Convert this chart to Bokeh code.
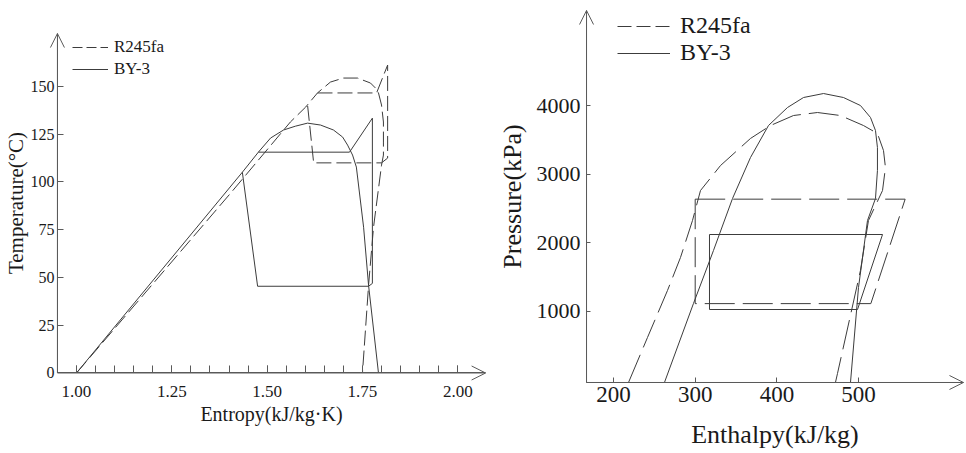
from bokeh.plotting import figure
from bokeh.models import Range1d, FixedTicker, Arrow, OpenHead, Legend, LegendItem
from bokeh.layouts import row
from bokeh.embed import file_html
from bokeh.resources import INLINE

# ---------------- data: T-s diagram ----------------
ts_r245_dome_s = [1.000, 1.404, 1.561, 1.601, 1.632, 1.666, 1.700, 1.737, 1.771, 1.784,
                  1.792, 1.800, 1.805, 1.805, 1.805, 1.800, 1.779, 1.766, 1.750]
ts_r245_dome_T = [0, 94.1, 131.4, 139.2, 146.6, 152.3, 154.4, 154.4, 151.8, 149.2,
                  146.6, 140.3, 131.4, 120.9, 114.1, 108.8, 76.3, 45.9, 0]
ts_r245_cycle_s = [1.632, 1.787, 1.816, 1.816, 1.800, 1.622, 1.606]
ts_r245_cycle_T = [146.6, 146.6, 161.2, 112.5, 110.0, 110.0, 140.3]

ts_by3_dome_s = [1.000, 1.435, 1.477, 1.509, 1.543, 1.574, 1.606, 1.640, 1.674, 1.698,
                 1.711, 1.724, 1.734, 1.753, 1.766, 1.792]
ts_by3_dome_T = [0, 105.1, 115.6, 123.0, 127.2, 129.2, 130.8, 129.8, 127.2, 123.5,
                 119.3, 114.1, 107.8, 76.3, 45.9, 0]
ts_by3_cycle_s = [1.477, 1.716, 1.776, 1.776, 1.766, 1.475, 1.435]
ts_by3_cycle_T = [115.6, 115.6, 133.4, 46.9, 45.4, 45.4, 105.1]

ts_x_ticks = [1.00, 1.25, 1.50, 1.75, 2.00]
ts_x_labels = ["1.00", "1.25", "1.50", "1.75", "2.00"]
ts_x_minor = [1.00, 1.05, 1.10, 1.15, 1.20, 1.25, 1.30, 1.35, 1.40, 1.45, 1.50,
              1.55, 1.60, 1.65, 1.70, 1.75, 1.80, 1.85, 1.90, 1.95, 2.00]
ts_y_ticks = [0, 25, 50, 75, 100, 125, 150]

# ---------------- data: P-h diagram ----------------
ph_r245_dome_h = [218.4, 241.6, 266.1, 282.0, 296.7, 306.5, 331.0, 367.7, 392.2, 420.3,
                  449.7, 477.8, 506.0, 523.1, 530.5, 532.9, 529.3, 512.1, 502.3, 474.2, 471.7]
ph_r245_dome_P = [-36, 620, 1307, 1788, 2328, 2766, 3131, 3526, 3715, 3861,
                  3905, 3861, 3715, 3599, 3350, 3102, 2766, 2328, 1599, 96, -36]
ph_r245_cycle_h = [300, 557, 515, 300, 300]
ph_r245_cycle_P = [2640, 2640, 1115, 1115, 2640]

ph_by3_dome_h = [262.4, 297.9, 322.4, 345.7, 367.7, 389.7, 413.0, 432.6, 457.1, 481.5,
                 502.3, 514.6, 520.7, 523.1, 523.1, 520.7, 510.9, 499.9, 490.1]
ph_by3_dome_P = [-36, 1117, 1891, 2650, 3248, 3715, 3978, 4124, 4182, 4124,
                 4007, 3832, 3642, 3394, 3058, 2650, 2328, 1350, -36]
ph_by3_cycle_h = [317.5, 529.3, 498.7, 317.5, 317.5]
ph_by3_cycle_P = [2124, 2124, 1029, 1029, 2124]

ph_x_ticks = [200, 300, 400, 500]
ph_y_ticks = [1000, 2000, 3000, 4000]

series_names = ["R245fa", "BY-3"]

FONT = "Liberation Serif"
LINE = "#3c3c3c"
AXIS = "#5a5a5a"
TEXT = "#1a1a1a"

# axis origin / arrow tips (data units) and visible ranges (whole canvas)
TS_AX = dict(x0=0.950, x1=2.073, y0=0.0, y1=177.7)
TS_RANGE = dict(x=(0.8007, 2.0858), y=(-42.15, 195.0))
PH_AX = dict(x0=167.0, x1=628.4, y0=-36.5, y1=5394.0)
PH_RANGE = dict(x=(49.45, 632.1), y=(-1073.0, 5540.1))


def base(width, height, ax, rng):
    p = figure(width=width, height=height, output_backend="svg", toolbar_location=None,
               title=None, x_range=Range1d(*rng["x"]), y_range=Range1d(*rng["y"]),
               min_border_left=0, min_border_right=0, min_border_top=0, min_border_bottom=0)
    p.outline_line_color = None
    p.xgrid.visible = False
    p.ygrid.visible = False
    xa, ya = p.xaxis[0], p.yaxis[0]
    xa.fixed_location = ax["y0"]
    ya.fixed_location = ax["x0"]
    xa.bounds = (ax["x0"], ax["x1"])
    ya.bounds = (ax["y0"], ax["y1"])
    for a in (xa, ya):
        a.axis_line_color = AXIS
        a.major_tick_line_color = AXIS
        a.minor_tick_line_color = AXIS
        a.major_label_text_font = FONT
        a.axis_label_text_font = FONT
        a.axis_label_text_font_style = "normal"
        a.major_label_text_color = TEXT
        a.axis_label_text_color = TEXT
    p.add_layout(Arrow(end=OpenHead(size=14, line_color=AXIS, line_width=1),
                       x_start=ax["x0"], y_start=ax["y0"], x_end=ax["x1"], y_end=ax["y0"],
                       line_color=AXIS, line_width=1))
    p.add_layout(Arrow(end=OpenHead(size=14, line_color=AXIS, line_width=1),
                       x_start=ax["x0"], y_start=ax["y0"], x_end=ax["x0"], y_end=ax["y1"],
                       line_color=AXIS, line_width=1))
    return p


def legend(p, dash, loc, gw, size, standoff, lh):
    nan = float("nan")
    ra = p.line([nan], [nan], line_color=LINE, line_width=1, line_dash=dash)
    rb = p.line([nan], [nan], line_color=LINE, line_width=1)
    lg = Legend(items=[LegendItem(label=series_names[0], renderers=[ra]),
                       LegendItem(label=series_names[1], renderers=[rb])],
                location=loc, glyph_width=gw, glyph_height=22, label_height=22,
                spacing=0, padding=0, margin=0, label_standoff=standoff,
                border_line_color=None, background_fill_alpha=0,
                label_text_font=FONT, label_text_font_size=size, label_text_color=TEXT,
                label_text_line_height=lh)
    p.add_layout(lg)


# ---------------- left: T-s ----------------
p1 = base(490, 453, TS_AX, TS_RANGE)
p1.line(ts_r245_dome_s, ts_r245_dome_T, line_color=LINE, line_width=1, line_dash="15 5")
p1.line(ts_r245_cycle_s, ts_r245_cycle_T, line_color=LINE, line_width=1, line_dash="15 5")
p1.line(ts_by3_dome_s, ts_by3_dome_T, line_color=LINE, line_width=1)
p1.line(ts_by3_cycle_s, ts_by3_cycle_T, line_color=LINE, line_width=1)

xa = p1.xaxis[0]
xa.ticker = FixedTicker(ticks=ts_x_ticks, minor_ticks=ts_x_minor)
xa.major_label_overrides = dict(zip(ts_x_ticks, ts_x_labels))
xa.major_tick_in = 7
xa.major_tick_out = 0
xa.minor_tick_in = 7
xa.minor_tick_out = 0
xa.major_label_standoff = 13
xa.major_label_text_font_size = "17px"
xa.axis_label = "Entropy(kJ/kg·K)"
xa.axis_label_text_font_size = "20px"
xa.axis_label_standoff = 3

ya = p1.yaxis[0]
ya.ticker = FixedTicker(ticks=ts_y_ticks, minor_ticks=[])
ya.major_tick_in = 6
ya.major_tick_out = 0
ya.major_label_standoff = 3
ya.major_label_text_font_size = "16px"
ya.axis_label = "Temperature(°C)"
ya.axis_label_text_font_size = "21px"
ya.axis_label_standoff = 0

legend(p1, "10 4", (72, 373), 36, "17px", 6, 1.2)

# ---------------- right: P-h ----------------
p2 = base(476, 453, PH_AX, PH_RANGE)
p2.line(ph_r245_dome_h, ph_r245_dome_P, line_color=LINE, line_width=1, line_dash="30 8")
p2.line(ph_r245_cycle_h, ph_r245_cycle_P, line_color=LINE, line_width=1, line_dash="30 8")
p2.line(ph_by3_dome_h, ph_by3_dome_P, line_color=LINE, line_width=1)
p2.line(ph_by3_cycle_h, ph_by3_cycle_P, line_color=LINE, line_width=1)

xb = p2.xaxis[0]
xb.ticker = FixedTicker(ticks=ph_x_ticks, minor_ticks=[])
xb.major_tick_in = 5
xb.major_tick_out = 0
xb.major_label_standoff = 5
xb.major_label_text_font_size = "23px"
xb.axis_label = "Enthalpy(kJ/kg)"
xb.axis_label_text_font_size = "26px"
xb.axis_label_standoff = 14

yb = p2.yaxis[0]
yb.ticker = FixedTicker(ticks=ph_y_ticks, minor_ticks=[])
yb.major_tick_in = 4
yb.major_tick_out = 0
yb.major_label_standoff = 6
yb.major_label_text_font_size = "22px"
yb.axis_label = "Pressure(kPa)"
yb.axis_label_text_font_size = "26px"
yb.axis_label_standoff = 7

legend(p2, "14 5", (127, 387), 53, "24px", 10, 0.9)

layout = row(p1, p2)
open("out.html", "w").write(file_html(layout, INLINE))
